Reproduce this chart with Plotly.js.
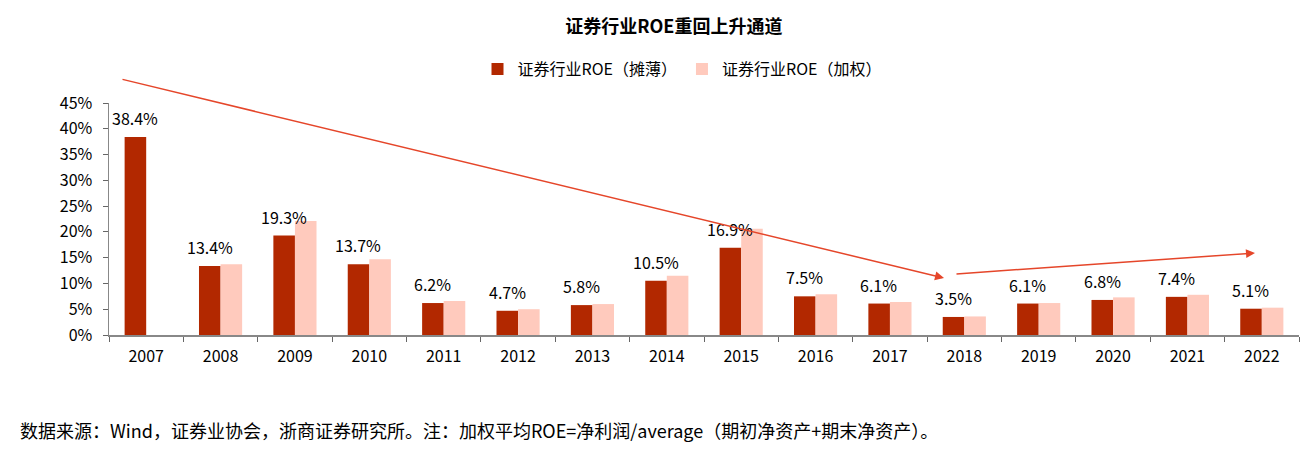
<!DOCTYPE html>
<html>
<head>
<meta charset="utf-8">
<script src="https://cdn.plot.ly/plotly-3.0.1.min.js"></script>
<style>html,body{margin:0;padding:0;background:#fff;}#chart{width:1311px;height:453px;}</style>
</head>
<body>
<div id="chart"></div>
<script>
const years = ['2007','2008','2009','2010','2011','2012','2013','2014','2015','2016','2017','2018','2019','2020','2021','2022'];
const roeDiluted = [38.4,13.4,19.3,13.7,6.2,4.7,5.8,10.5,16.9,7.5,6.1,3.5,6.1,6.8,7.4,5.1];
const roeWeighted = [null,13.7,22.1,14.7,6.6,5.0,6.0,11.5,20.6,7.9,6.4,3.6,6.2,7.3,7.8,5.3];
const yTicks = [0,5,10,15,20,25,30,35,40,45];

const font = '"Noto Sans CJK SC", "Microsoft YaHei", sans-serif';

const traces = [
  {
    type: 'bar', name: '证券行业ROE（摊薄）', x: years, y: roeDiluted,
    marker: {color: '#B22800'},
    hoverinfo: 'x+y'
  },
  {
    type: 'bar', name: '证券行业ROE（加权）', x: years, y: roeWeighted,
    marker: {color: '#FFCABD'},
    hoverinfo: 'x+y'
  }
];

const L = 109, R = 1299, T = 103, B = 335;
const px = v => (v - L) / (R - L);
const py = v => (B - v) / (B - T);

// category index positions on the category axis
const labelAnns = years.map((yr, i) => ({
  x: i, y: roeDiluted[i], xref: 'x', yref: 'y',
  text: roeDiluted[i].toFixed(1) + '%', showarrow: false,
  xanchor: 'center', yanchor: 'middle', xshift: -11, yshift: 19,
  font: {size: 16, family: font, color: '#000'}
}));

const layout = {
  width: 1311, height: 453,
  margin: {l: L, r: 1311 - R, t: T, b: 453 - B},
  paper_bgcolor: '#fff', plot_bgcolor: '#fff',
  font: {family: font, size: 16, color: '#000'},
  title: {text: '<b>证券行业ROE重回上升通道</b>', font: {size: 18, family: font, color: '#000'},
          x: 0.514, xref: 'container', xanchor: 'center', y: 1 - 27/453, yref: 'container', yanchor: 'middle'},
  showlegend: true,
  legend: {orientation: 'h', x: 682/1311, xref: 'container', xanchor: 'center',
           y: 1 - 69/453, yref: 'container', yanchor: 'middle',
           font: {size: 16, family: font}, itemwidth: 30, traceorder: 'normal'},
  barmode: 'group', bargap: 0.42, bargroupgap: 0,
  xaxis: {type: 'category', categoryorder: 'array', categoryarray: years,
          range: [-0.5, years.length - 0.5],
          tickson: 'boundaries', ticks: 'outside', ticklen: 5, tickcolor: '#666',
          showline: true, linecolor: '#888', linewidth: 1.5, showgrid: false, zeroline: false,
          ticklabelstandoff: 6, tickfont: {size: 16, family: font}},
  yaxis: {range: [0, 45], tickvals: yTicks, ticktext: yTicks.map(v => v + '%'),
          ticks: 'outside', ticklen: 5, tickcolor: '#666', showline: true, linecolor: '#888', linewidth: 1.5,
          showgrid: false, zeroline: false, ticklabelstandoff: 7, tickfont: {size: 16, family: font}},
  annotations: labelAnns.concat([
    {xref: 'paper', yref: 'paper', x: px(944), y: py(278),
     axref: 'pixel', ayref: 'pixel', ax: -823, ay: -199, showarrow: true, text: '',
     arrowhead: 2, arrowsize: 1.2, arrowwidth: 1.5, arrowcolor: '#E5462A'},
    {xref: 'paper', yref: 'paper', x: px(1255), y: py(253),
     axref: 'pixel', ayref: 'pixel', ax: -300, ay: 21, showarrow: true, text: '',
     arrowhead: 2, arrowsize: 1.2, arrowwidth: 1.5, arrowcolor: '#E5462A'},
    {xref: 'paper', yref: 'paper', x: px(18), y: py(430), xanchor: 'left', yanchor: 'middle',
     showarrow: false, text: '数据来源：Wind，证券业协会，浙商证券研究所。注：加权平均ROE=净利润/average（期初净资产+期末净资产）。',
     font: {size: 18, family: font, color: '#000'}}
  ])
};

Plotly.newPlot('chart', traces, layout, {displayModeBar: false, staticPlot: true});
</script>
</body>
</html>
